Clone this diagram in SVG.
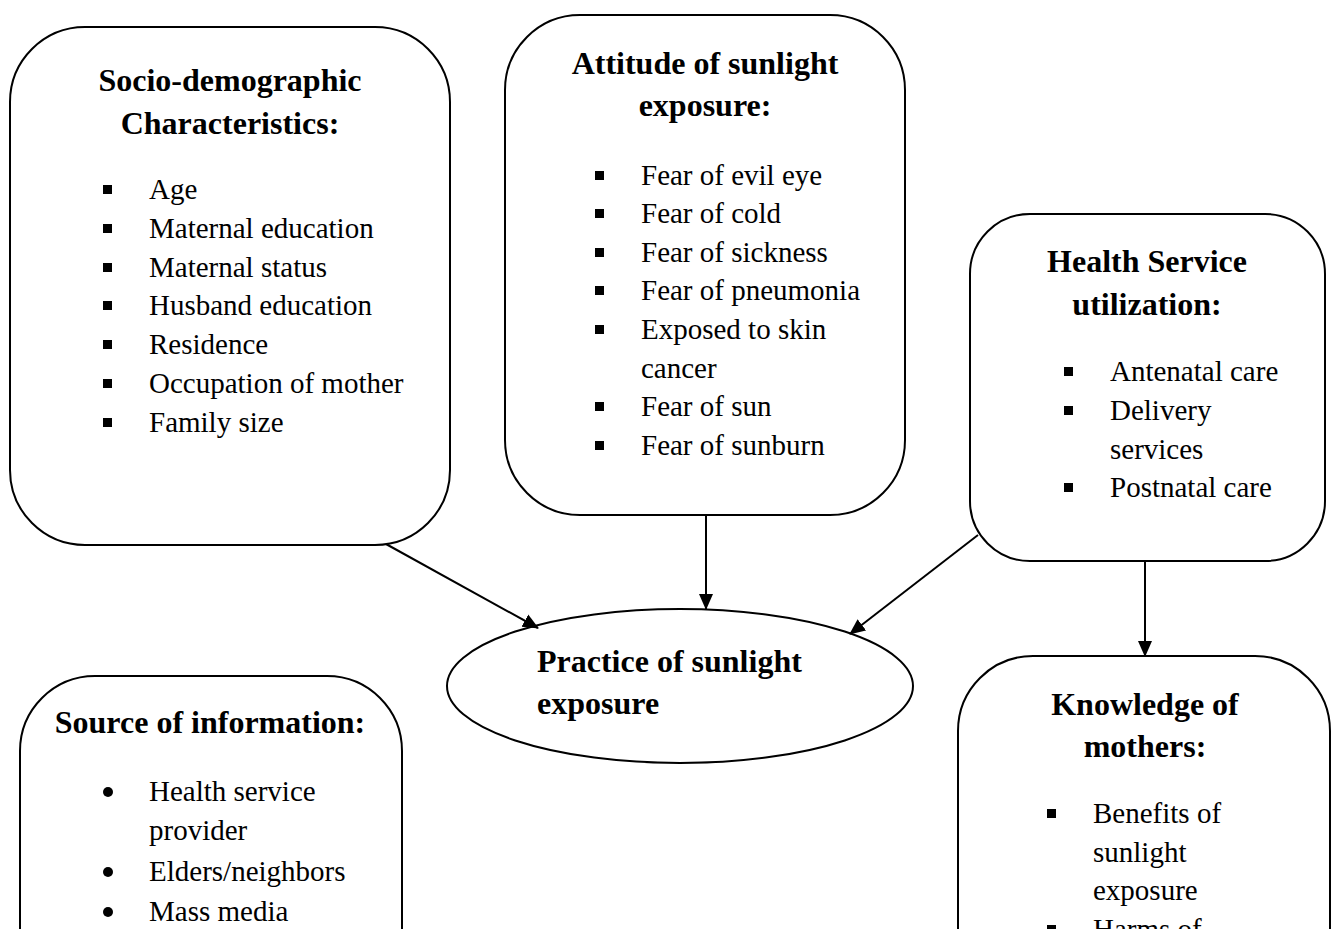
<svg xmlns="http://www.w3.org/2000/svg" width="1335" height="929" viewBox="0 0 1335 929">
<style>
.box{fill:#fff;stroke:#000;stroke-width:2}
.h{font-family:"Liberation Serif","Times New Roman",serif;font-weight:bold;font-size:32px;fill:#000}
.t{font-family:"Liberation Serif","Times New Roman",serif;font-size:29px;fill:#000}
.c{text-anchor:middle}
.conn{stroke:#000;stroke-width:2;fill:none}
</style>
<defs>
<marker id="arr" markerWidth="16" markerHeight="16" refX="15" refY="8" orient="auto" markerUnits="userSpaceOnUse">
<path d="M0,1 L16,8 L0,15 Z" fill="#000"/>
</marker>
<rect id="sq" x="-4.5" y="-4.5" width="9" height="9" fill="#000"/>
</defs>
<rect width="1335" height="929" fill="#fff"/>

<g id="socio">
<rect class="box" x="10" y="27" width="440" height="518" rx="75" ry="75"/>
<text class="h c" x="230" y="91">Socio-demographic</text>
<text class="h c" x="230" y="134">Characteristics:</text>
<use href="#sq" x="107.5" y="189.5"/><text class="t" x="149" y="199">Age</text>
<use href="#sq" x="107.5" y="228.5"/><text class="t" x="149" y="238">Maternal education</text>
<use href="#sq" x="107.5" y="267.5"/><text class="t" x="149" y="277">Maternal status</text>
<use href="#sq" x="107.5" y="305.5"/><text class="t" x="149" y="315">Husband education</text>
<use href="#sq" x="107.5" y="344.5"/><text class="t" x="149" y="354">Residence</text>
<use href="#sq" x="107.5" y="383.5"/><text class="t" x="149" y="393">Occupation of mother</text>
<use href="#sq" x="107.5" y="422.5"/><text class="t" x="149" y="432">Family size</text>
</g>

<g id="attitude">
<rect class="box" x="505" y="15" width="400" height="500" rx="75" ry="75"/>
<text class="h c" x="705" y="74">Attitude of sunlight</text>
<text class="h c" x="705" y="116">exposure:</text>
<use href="#sq" x="599.5" y="175.5"/><text class="t" x="641" y="185">Fear of evil eye</text>
<use href="#sq" x="599.5" y="213.5"/><text class="t" x="641" y="223">Fear of cold</text>
<use href="#sq" x="599.5" y="252.5"/><text class="t" x="641" y="262">Fear of sickness</text>
<use href="#sq" x="599.5" y="290.5"/><text class="t" x="641" y="300">Fear of pneumonia</text>
<use href="#sq" x="599.5" y="329.5"/><text class="t" x="641" y="339">Exposed to skin</text>
<text class="t" x="641" y="378">cancer</text>
<use href="#sq" x="599.5" y="406.5"/><text class="t" x="641" y="416">Fear of sun</text>
<use href="#sq" x="599.5" y="445.5"/><text class="t" x="641" y="455">Fear of sunburn</text>
</g>

<g id="health">
<rect class="box" x="970" y="214" width="355" height="347" rx="60" ry="60"/>
<text class="h c" x="1147" y="272">Health Service</text>
<text class="h c" x="1147" y="315">utilization:</text>
<use href="#sq" x="1068.5" y="371.5"/><text class="t" x="1110" y="381">Antenatal care</text>
<use href="#sq" x="1068.5" y="410.5"/><text class="t" x="1110" y="420">Delivery</text>
<text class="t" x="1110" y="459">services</text>
<use href="#sq" x="1068.5" y="487.5"/><text class="t" x="1110" y="497">Postnatal care</text>
</g>

<g id="practice">
<ellipse class="box" cx="680" cy="686" rx="233" ry="77"/>
<text class="h" x="537" y="672">Practice of sunlight</text>
<text class="h" x="537" y="714">exposure</text>
</g>

<g id="source">
<rect class="box" x="20" y="676" width="382" height="330" rx="75" ry="75"/>
<text class="h c" x="210" y="733">Source of information:</text>
<circle cx="108" cy="792" r="5"/><text class="t" x="149" y="801">Health service</text>
<text class="t" x="149" y="840">provider</text>
<circle cx="108" cy="872" r="5"/><text class="t" x="149" y="881">Elders/neighbors</text>
<circle cx="108" cy="912" r="5"/><text class="t" x="149" y="921">Mass media</text>
</g>

<g id="knowledge">
<rect class="box" x="958" y="656" width="372" height="350" rx="75" ry="75"/>
<text class="h c" x="1145" y="715">Knowledge of</text>
<text class="h c" x="1145" y="757">mothers:</text>
<use href="#sq" x="1051.5" y="813.5"/><text class="t" x="1093" y="823">Benefits of</text>
<text class="t" x="1093" y="862">sunlight</text>
<text class="t" x="1093" y="900">exposure</text>
<use href="#sq" x="1051.5" y="929.5"/><text class="t" x="1093" y="939">Harms of</text>
</g>

<g id="connectors">
<line class="conn" x1="386" y1="544" x2="538" y2="628" marker-end="url(#arr)"/>
<line class="conn" x1="706" y1="515" x2="706" y2="609" marker-end="url(#arr)"/>
<line class="conn" x1="978" y1="535" x2="850" y2="634" marker-end="url(#arr)"/>
<line class="conn" x1="1145" y1="562" x2="1145" y2="656" marker-end="url(#arr)"/>
</g>
</svg>
